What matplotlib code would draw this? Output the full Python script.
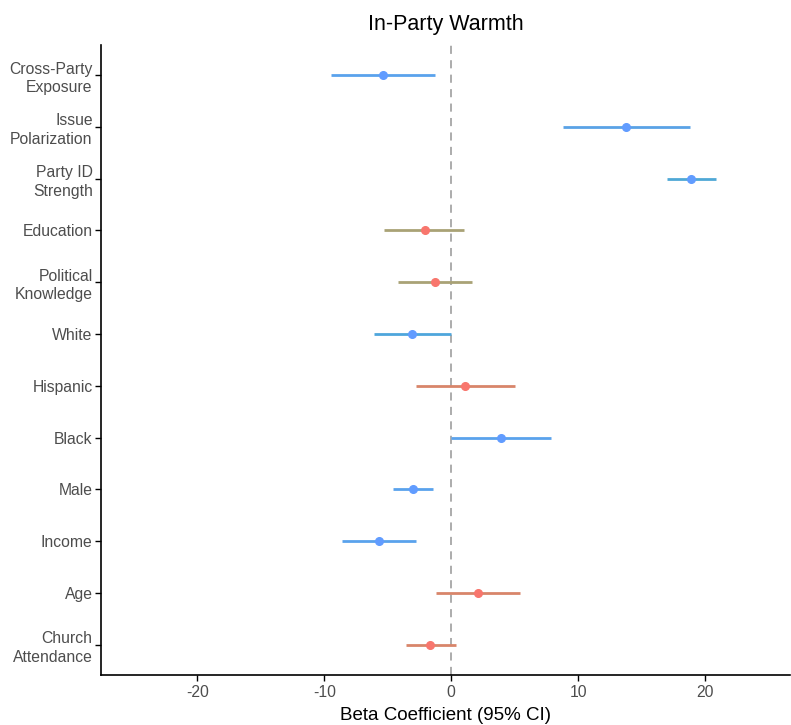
import matplotlib as mlp
mlp.use('Agg')
import matplotlib.pyplot as plt

# predictors, bottom to top
labels = ['Church\nAttendance', 'Age', 'Income', 'Male', 'Black', 'Hispanic',
          'White', 'Political\nKnowledge', 'Education', 'Party ID\nStrength',
          'Issue\nPolarization', 'Cross-Party\nExposure']
beta = [-1.65, 2.1, -5.7, -3.0, 3.9, 1.1, -3.1, -1.3, -2.1, 18.9, 13.8, -5.4]
ci_lo = [-3.6, -1.2, -8.6, -4.6, 0.0, -2.8, -6.1, -4.2, -5.3, 17.0, 8.8, -9.5]
ci_hi = [0.4, 5.4, -2.8, -1.4, 7.9, 5.0, 0.0, 1.6, 1.0, 20.9, 18.8, -1.3]

pt_col = ['#F8766D', '#F8766D', '#619CFF', '#619CFF', '#619CFF', '#F8766D',
          '#619CFF', '#F8766D', '#F8766D', '#619CFF', '#619CFF', '#619CFF']
ln_col = ['#d8856a', '#d8856a', '#5aa2ec', '#5aa2ec', '#5aa2ec', '#d8856a',
          '#4ea6dc', '#a9a276', '#a9a276', '#4fa8d6', '#5aa2e6', '#5aa2ec']

plt.rcParams['font.family'] = ['Liberation Sans', 'DejaVu Sans']
plt.rcParams['axes.unicode_minus'] = False

fig = plt.figure(figsize=(7.91, 7.25), dpi=100)
ax = fig.add_axes([0.1277, 0.069, 0.871, 0.869])

ys = list(range(1, len(labels) + 1))
ax.axvline(0, color='#a6a6a6', lw=1.3, ls=(0, (4.5, 3.5)), zorder=1)
for y, b, lo, hi, pc, lc in zip(ys, beta, ci_lo, ci_hi, pt_col, ln_col):
    ax.plot([lo, hi], [y, y], color=lc, lw=2.0, solid_capstyle='butt', zorder=2)
    ax.plot(b, y, 'o', color=pc, ms=5.5, mec=pc, zorder=3)

ax.set_xlim(-27.6, 26.7)
ax.set_ylim(0.42, 12.58)
ax.set_xticks([-20, -10, 0, 10, 20])
ax.set_yticks(ys)
ax.set_yticklabels(labels, ha='right', multialignment='right', linespacing=1.3)
ax.tick_params(axis='both', labelsize=11.3, labelcolor='#4d4d4d', color='black',
               length=4, width=1)
ax.tick_params(axis='y', pad=2)
for s in ['top', 'right']:
    ax.spines[s].set_visible(False)
for s in ['left', 'bottom']:
    ax.spines[s].set_linewidth(1.2)

ax.set_title('In-Party Warmth', fontsize=15.5, pad=11)
ax.set_xlabel('Beta Coefficient (95% CI)', fontsize=13.5, labelpad=5)

plt.savefig('out.png', dpi=100)
